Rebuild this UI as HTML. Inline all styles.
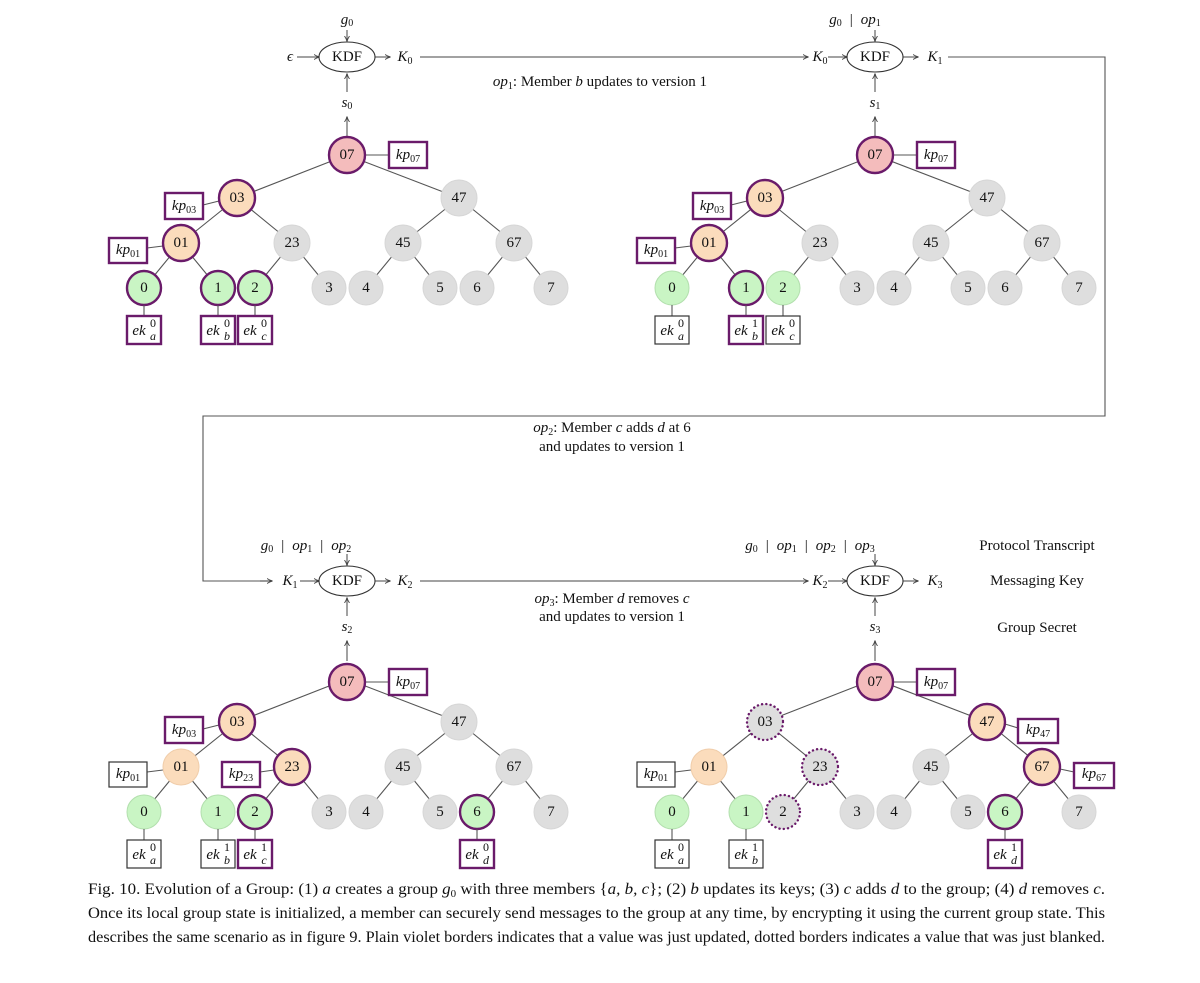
<!DOCTYPE html>
<html><head><meta charset="utf-8"><style>
body{margin:0;background:#fff}
svg{display:block}
text{font-family:"Liberation Serif",serif;fill:#111}
.c{text-anchor:middle;dominant-baseline:central;font-size:15px}
.s{text-anchor:middle;dominant-baseline:central;font-size:12px}
.m{font-style:italic}
.ln{stroke:#555;stroke-width:1.1;fill:none}
.ar{stroke:#444;stroke-width:1.1;fill:none;marker-end:url(#ah)}
.g{fill:#dedede;stroke:#d6d6d6;stroke-width:1}
.gr{fill:#c9f5c4;stroke:#b2dfad;stroke-width:1}
.or{fill:#fbdcbc;stroke:#f0cdaa;stroke-width:1}
.pk{fill:#f4bcbc}
.P{stroke:#6a1b6a;stroke-width:2.4}
.D{stroke:#6a1b6a;stroke-width:2.4;stroke-dasharray:0.1 4.2;stroke-linecap:round}
.bx{fill:#fff;stroke:#333;stroke-width:1.2}
.bp{fill:#fff;stroke:#6a1b6a;stroke-width:2.4}
</style></head><body>
<svg width="1200" height="983" viewBox="0 0 1200 983" xmlns="http://www.w3.org/2000/svg">
<defs>
<marker id="ah" markerWidth="8" markerHeight="8" refX="5" refY="3" orient="auto" markerUnits="userSpaceOnUse">
<path d="M0,0.5 Q3,2.5 5.5,3 Q3,3.5 0,5.5" fill="none" stroke="#444" stroke-width="0.9"/></marker>
<g id="edges" class="ln">
<line x1="347" y1="155" x2="237" y2="198"/><line x1="347" y1="155" x2="459" y2="198"/>
<line x1="237" y1="198" x2="181" y2="243"/><line x1="237" y1="198" x2="292" y2="243"/>
<line x1="459" y1="198" x2="403" y2="243"/><line x1="459" y1="198" x2="514" y2="243"/>
<line x1="181" y1="243" x2="144" y2="288"/><line x1="181" y1="243" x2="218" y2="288"/>
<line x1="292" y1="243" x2="255" y2="288"/><line x1="292" y1="243" x2="329" y2="288"/>
<line x1="403" y1="243" x2="366" y2="288"/><line x1="403" y1="243" x2="440" y2="288"/>
<line x1="514" y1="243" x2="477" y2="288"/><line x1="514" y1="243" x2="551" y2="288"/>
<line x1="347" y1="137" x2="347" y2="117" style="marker-end:url(#ah)"/>
<line x1="347" y1="92" x2="347" y2="74" style="marker-end:url(#ah)"/>
<line x1="375" y1="57" x2="390" y2="57" style="marker-end:url(#ah)"/>
<line x1="347" y1="30" x2="347" y2="41" style="marker-end:url(#ah)"/>
</g>
</defs>

<line class="ar" x1="420" y1="57" x2="808" y2="57"/>
<polyline class="ln" points="948,57 1105,57 1105,416 203,416 203,581 270,581" />
<line class="ar" x1="260" y1="581" x2="272" y2="581"/>
<line class="ar" x1="420" y1="581" x2="808" y2="581"/>
<line class="ar" x1="828" y1="57" x2="847" y2="57"/>
<line class="ar" x1="300" y1="581" x2="319" y2="581"/>
<line class="ar" x1="828" y1="581" x2="847" y2="581"/>
<line class="ar" x1="297" y1="57" x2="319" y2="57"/>

<text x="600" y="82" class="c"><tspan class="m">op</tspan><tspan font-size="10" dy="4">1</tspan><tspan dy="-4">: Member </tspan><tspan class="m">b</tspan> updates to version 1</text>
<text x="612" y="428" class="c"><tspan class="m">op</tspan><tspan font-size="10" dy="4">2</tspan><tspan dy="-4">: Member </tspan><tspan class="m">c</tspan> adds <tspan class="m">d</tspan> at 6</text>
<text x="612" y="447" class="c">and updates to version 1</text>
<text x="612" y="599" class="c"><tspan class="m">op</tspan><tspan font-size="10" dy="4">3</tspan><tspan dy="-4">: Member </tspan><tspan class="m">d</tspan> removes <tspan class="m">c</tspan></text>
<text x="612" y="617" class="c">and updates to version 1</text>
<text x="1037" y="546" class="c">Protocol Transcript</text>
<text x="1037" y="581" class="c">Messaging Key</text>
<text x="1037" y="628" class="c">Group Secret</text>

<text x="347" y="20" class="c"><tspan class="m">g</tspan><tspan font-size="10" dy="3">0</tspan></text>
<text x="290" y="57" class="c m">ϵ</text>
<text x="855" y="20" class="c"><tspan class="m">g</tspan><tspan font-size="10" dy="3">0</tspan><tspan dx="8" dy="-3">|</tspan><tspan dx="8" class="m">op</tspan><tspan font-size="10" dy="3">1</tspan></text>
<text x="306" y="546" class="c"><tspan class="m">g</tspan><tspan font-size="10" dy="3">0</tspan><tspan dx="8" dy="-3">|</tspan><tspan dx="8" class="m">op</tspan><tspan font-size="10" dy="3">1</tspan><tspan dx="8" dy="-3">|</tspan><tspan dx="8" class="m">op</tspan><tspan font-size="10" dy="3">2</tspan></text>
<text x="810" y="546" class="c"><tspan class="m">g</tspan><tspan font-size="10" dy="3">0</tspan><tspan dx="8" dy="-3">|</tspan><tspan dx="8" class="m">op</tspan><tspan font-size="10" dy="3">1</tspan><tspan dx="8" dy="-3">|</tspan><tspan dx="8" class="m">op</tspan><tspan font-size="10" dy="3">2</tspan><tspan dx="8" dy="-3">|</tspan><tspan dx="8" class="m">op</tspan><tspan font-size="10" dy="3">3</tspan></text>
<text x="405" y="57" class="c"><tspan class="m">K</tspan><tspan font-size="10" dy="4">0</tspan></text>
<text x="820" y="57" class="c"><tspan class="m">K</tspan><tspan font-size="10" dy="4">0</tspan></text>
<text x="935" y="57" class="c"><tspan class="m">K</tspan><tspan font-size="10" dy="4">1</tspan></text>
<text x="290" y="581" class="c"><tspan class="m">K</tspan><tspan font-size="10" dy="4">1</tspan></text>
<text x="405" y="581" class="c"><tspan class="m">K</tspan><tspan font-size="10" dy="4">2</tspan></text>
<text x="820" y="581" class="c"><tspan class="m">K</tspan><tspan font-size="10" dy="4">2</tspan></text>
<text x="935" y="581" class="c"><tspan class="m">K</tspan><tspan font-size="10" dy="4">3</tspan></text>

<!-- ===== TL ===== -->
<g>
<use href="#edges"/>
<ellipse cx="347" cy="57" rx="28" ry="15" fill="#fff" stroke="#333" stroke-width="1.1"/><text x="347" y="57" class="c">KDF</text>
<text x="347" y="103" class="c"><tspan class="m">s</tspan><tspan font-size="10" dy="3">0</tspan></text>
<line class="ln" x1="365" y1="155" x2="389" y2="155"/><rect class="bp" x="389" y="142" width="38" height="26"/><text x="408" y="155" class="c"><tspan class="m">kp</tspan><tspan font-size="10" dy="4">07</tspan></text>
<line class="ln" x1="219" y1="201" x2="203" y2="205"/><rect class="bp" x="165" y="193" width="38" height="26"/><text x="184" y="206" class="c"><tspan class="m">kp</tspan><tspan font-size="10" dy="4">03</tspan></text>
<line class="ln" x1="163" y1="246" x2="147" y2="248"/><rect class="bp" x="109" y="238" width="38" height="25"/><text x="128" y="250" class="c"><tspan class="m">kp</tspan><tspan font-size="10" dy="4">01</tspan></text>
<circle cx="347" cy="155" r="18" class="pk P"/><text x="347" y="155" class="c">07</text>
<circle cx="237" cy="198" r="18" class="or P"/><text x="237" y="198" class="c">03</text>
<circle cx="459" cy="198" r="18" class="g"/><text x="459" y="198" class="c">47</text>
<circle cx="181" cy="243" r="18" class="or P"/><text x="181" y="243" class="c">01</text>
<circle cx="292" cy="243" r="18" class="g"/><text x="292" y="243" class="c">23</text>
<circle cx="403" cy="243" r="18" class="g"/><text x="403" y="243" class="c">45</text>
<circle cx="514" cy="243" r="18" class="g"/><text x="514" y="243" class="c">67</text>
<circle cx="144" cy="288" r="17" class="gr P"/><text x="144" y="288" class="c">0</text>
<circle cx="218" cy="288" r="17" class="gr P"/><text x="218" y="288" class="c">1</text>
<circle cx="255" cy="288" r="17" class="gr P"/><text x="255" y="288" class="c">2</text>
<circle cx="329" cy="288" r="17" class="g"/><text x="329" y="288" class="c">3</text>
<circle cx="366" cy="288" r="17" class="g"/><text x="366" y="288" class="c">4</text>
<circle cx="440" cy="288" r="17" class="g"/><text x="440" y="288" class="c">5</text>
<circle cx="477" cy="288" r="17" class="g"/><text x="477" y="288" class="c">6</text>
<circle cx="551" cy="288" r="17" class="g"/><text x="551" y="288" class="c">7</text>
<line class="ln" x1="144" y1="305" x2="144" y2="316"/><rect class="bp" x="127" y="316" width="34" height="28"/><text x="139" y="331" class="c m">ek</text><text x="153" y="323" class="s">0</text><text x="153" y="336" class="s m">a</text>
<line class="ln" x1="218" y1="305" x2="218" y2="316"/><rect class="bp" x="201" y="316" width="34" height="28"/><text x="213" y="331" class="c m">ek</text><text x="227" y="323" class="s">0</text><text x="227" y="336" class="s m">b</text>
<line class="ln" x1="255" y1="305" x2="255" y2="316"/><rect class="bp" x="238" y="316" width="34" height="28"/><text x="250" y="331" class="c m">ek</text><text x="264" y="323" class="s">0</text><text x="264" y="336" class="s m">c</text>
</g>

<!-- ===== TR ===== -->
<g transform="translate(528,0)">
<use href="#edges"/>
<ellipse cx="347" cy="57" rx="28" ry="15" fill="#fff" stroke="#333" stroke-width="1.1"/><text x="347" y="57" class="c">KDF</text>
<text x="347" y="103" class="c"><tspan class="m">s</tspan><tspan font-size="10" dy="3">1</tspan></text>
<line class="ln" x1="365" y1="155" x2="389" y2="155"/><rect class="bp" x="389" y="142" width="38" height="26"/><text x="408" y="155" class="c"><tspan class="m">kp</tspan><tspan font-size="10" dy="4">07</tspan></text>
<line class="ln" x1="219" y1="201" x2="203" y2="205"/><rect class="bp" x="165" y="193" width="38" height="26"/><text x="184" y="206" class="c"><tspan class="m">kp</tspan><tspan font-size="10" dy="4">03</tspan></text>
<line class="ln" x1="163" y1="246" x2="147" y2="248"/><rect class="bp" x="109" y="238" width="38" height="25"/><text x="128" y="250" class="c"><tspan class="m">kp</tspan><tspan font-size="10" dy="4">01</tspan></text>
<circle cx="347" cy="155" r="18" class="pk P"/><text x="347" y="155" class="c">07</text>
<circle cx="237" cy="198" r="18" class="or P"/><text x="237" y="198" class="c">03</text>
<circle cx="459" cy="198" r="18" class="g"/><text x="459" y="198" class="c">47</text>
<circle cx="181" cy="243" r="18" class="or P"/><text x="181" y="243" class="c">01</text>
<circle cx="292" cy="243" r="18" class="g"/><text x="292" y="243" class="c">23</text>
<circle cx="403" cy="243" r="18" class="g"/><text x="403" y="243" class="c">45</text>
<circle cx="514" cy="243" r="18" class="g"/><text x="514" y="243" class="c">67</text>
<circle cx="144" cy="288" r="17" class="gr"/><text x="144" y="288" class="c">0</text>
<circle cx="218" cy="288" r="17" class="gr P"/><text x="218" y="288" class="c">1</text>
<circle cx="255" cy="288" r="17" class="gr"/><text x="255" y="288" class="c">2</text>
<circle cx="329" cy="288" r="17" class="g"/><text x="329" y="288" class="c">3</text>
<circle cx="366" cy="288" r="17" class="g"/><text x="366" y="288" class="c">4</text>
<circle cx="440" cy="288" r="17" class="g"/><text x="440" y="288" class="c">5</text>
<circle cx="477" cy="288" r="17" class="g"/><text x="477" y="288" class="c">6</text>
<circle cx="551" cy="288" r="17" class="g"/><text x="551" y="288" class="c">7</text>
<line class="ln" x1="144" y1="305" x2="144" y2="316"/><rect class="bx" x="127" y="316" width="34" height="28"/><text x="139" y="331" class="c m">ek</text><text x="153" y="323" class="s">0</text><text x="153" y="336" class="s m">a</text>
<line class="ln" x1="218" y1="305" x2="218" y2="316"/><rect class="bp" x="201" y="316" width="34" height="28"/><text x="213" y="331" class="c m">ek</text><text x="227" y="323" class="s">1</text><text x="227" y="336" class="s m">b</text>
<line class="ln" x1="255" y1="305" x2="255" y2="316"/><rect class="bx" x="238" y="316" width="34" height="28"/><text x="250" y="331" class="c m">ek</text><text x="264" y="323" class="s">0</text><text x="264" y="336" class="s m">c</text>
</g>

<!-- ===== BL ===== -->
<g transform="translate(0,524)">
<use href="#edges"/>
<ellipse cx="347" cy="57" rx="28" ry="15" fill="#fff" stroke="#333" stroke-width="1.1"/><text x="347" y="57" class="c">KDF</text>
<text x="347" y="103" class="c"><tspan class="m">s</tspan><tspan font-size="10" dy="3">2</tspan></text>
<line class="ln" x1="365" y1="158" x2="389" y2="158"/><rect class="bp" x="389" y="145" width="38" height="26"/><text x="408" y="158" class="c"><tspan class="m">kp</tspan><tspan font-size="10" dy="4">07</tspan></text>
<line class="ln" x1="219" y1="201" x2="203" y2="205"/><rect class="bp" x="165" y="193" width="38" height="26"/><text x="184" y="206" class="c"><tspan class="m">kp</tspan><tspan font-size="10" dy="4">03</tspan></text>
<line class="ln" x1="163" y1="246" x2="147" y2="248"/><rect class="bx" x="109" y="238" width="38" height="25"/><text x="128" y="250" class="c"><tspan class="m">kp</tspan><tspan font-size="10" dy="4">01</tspan></text>
<line class="ln" x1="274" y1="246" x2="260" y2="248"/><rect class="bp" x="222" y="238" width="38" height="25"/><text x="241" y="250" class="c"><tspan class="m">kp</tspan><tspan font-size="10" dy="4">23</tspan></text>
<circle cx="347" cy="158" r="18" class="pk P"/><text x="347" y="158" class="c">07</text>
<circle cx="237" cy="198" r="18" class="or P"/><text x="237" y="198" class="c">03</text>
<circle cx="459" cy="198" r="18" class="g"/><text x="459" y="198" class="c">47</text>
<circle cx="181" cy="243" r="18" class="or"/><text x="181" y="243" class="c">01</text>
<circle cx="292" cy="243" r="18" class="or P"/><text x="292" y="243" class="c">23</text>
<circle cx="403" cy="243" r="18" class="g"/><text x="403" y="243" class="c">45</text>
<circle cx="514" cy="243" r="18" class="g"/><text x="514" y="243" class="c">67</text>
<circle cx="144" cy="288" r="17" class="gr"/><text x="144" y="288" class="c">0</text>
<circle cx="218" cy="288" r="17" class="gr"/><text x="218" y="288" class="c">1</text>
<circle cx="255" cy="288" r="17" class="gr P"/><text x="255" y="288" class="c">2</text>
<circle cx="329" cy="288" r="17" class="g"/><text x="329" y="288" class="c">3</text>
<circle cx="366" cy="288" r="17" class="g"/><text x="366" y="288" class="c">4</text>
<circle cx="440" cy="288" r="17" class="g"/><text x="440" y="288" class="c">5</text>
<circle cx="477" cy="288" r="17" class="gr P"/><text x="477" y="288" class="c">6</text>
<circle cx="551" cy="288" r="17" class="g"/><text x="551" y="288" class="c">7</text>
<line class="ln" x1="144" y1="305" x2="144" y2="316"/><rect class="bx" x="127" y="316" width="34" height="28"/><text x="139" y="331" class="c m">ek</text><text x="153" y="323" class="s">0</text><text x="153" y="336" class="s m">a</text>
<line class="ln" x1="218" y1="305" x2="218" y2="316"/><rect class="bx" x="201" y="316" width="34" height="28"/><text x="213" y="331" class="c m">ek</text><text x="227" y="323" class="s">1</text><text x="227" y="336" class="s m">b</text>
<line class="ln" x1="255" y1="305" x2="255" y2="316"/><rect class="bp" x="238" y="316" width="34" height="28"/><text x="250" y="331" class="c m">ek</text><text x="264" y="323" class="s">1</text><text x="264" y="336" class="s m">c</text>
<line class="ln" x1="477" y1="305" x2="477" y2="316"/><rect class="bp" x="460" y="316" width="34" height="28"/><text x="472" y="331" class="c m">ek</text><text x="486" y="323" class="s">0</text><text x="486" y="336" class="s m">d</text>
</g>

<!-- ===== BR ===== -->
<g transform="translate(528,524)">
<use href="#edges"/>
<ellipse cx="347" cy="57" rx="28" ry="15" fill="#fff" stroke="#333" stroke-width="1.1"/><text x="347" y="57" class="c">KDF</text>
<text x="347" y="103" class="c"><tspan class="m">s</tspan><tspan font-size="10" dy="3">3</tspan></text>
<line class="ln" x1="365" y1="158" x2="389" y2="158"/><rect class="bp" x="389" y="145" width="38" height="26"/><text x="408" y="158" class="c"><tspan class="m">kp</tspan><tspan font-size="10" dy="4">07</tspan></text>
<line class="ln" x1="163" y1="246" x2="147" y2="248"/><rect class="bx" x="109" y="238" width="38" height="25"/><text x="128" y="250" class="c"><tspan class="m">kp</tspan><tspan font-size="10" dy="4">01</tspan></text>
<line class="ln" x1="477" y1="200" x2="490" y2="204"/><rect class="bp" x="490" y="195" width="40" height="24"/><text x="510" y="206" class="c"><tspan class="m">kp</tspan><tspan font-size="10" dy="4">47</tspan></text>
<line class="ln" x1="532" y1="245" x2="546" y2="248"/><rect class="bp" x="546" y="239" width="40" height="25"/><text x="566" y="250" class="c"><tspan class="m">kp</tspan><tspan font-size="10" dy="4">67</tspan></text>
<circle cx="347" cy="158" r="18" class="pk P"/><text x="347" y="158" class="c">07</text>
<circle cx="237" cy="198" r="18" class="g D"/><text x="237" y="198" class="c">03</text>
<circle cx="459" cy="198" r="18" class="or P"/><text x="459" y="198" class="c">47</text>
<circle cx="181" cy="243" r="18" class="or"/><text x="181" y="243" class="c">01</text>
<circle cx="292" cy="243" r="18" class="g D"/><text x="292" y="243" class="c">23</text>
<circle cx="403" cy="243" r="18" class="g"/><text x="403" y="243" class="c">45</text>
<circle cx="514" cy="243" r="18" class="or P"/><text x="514" y="243" class="c">67</text>
<circle cx="144" cy="288" r="17" class="gr"/><text x="144" y="288" class="c">0</text>
<circle cx="218" cy="288" r="17" class="gr"/><text x="218" y="288" class="c">1</text>
<circle cx="255" cy="288" r="17" class="g D"/><text x="255" y="288" class="c">2</text>
<circle cx="329" cy="288" r="17" class="g"/><text x="329" y="288" class="c">3</text>
<circle cx="366" cy="288" r="17" class="g"/><text x="366" y="288" class="c">4</text>
<circle cx="440" cy="288" r="17" class="g"/><text x="440" y="288" class="c">5</text>
<circle cx="477" cy="288" r="17" class="gr P"/><text x="477" y="288" class="c">6</text>
<circle cx="551" cy="288" r="17" class="g"/><text x="551" y="288" class="c">7</text>
<line class="ln" x1="144" y1="305" x2="144" y2="316"/><rect class="bx" x="127" y="316" width="34" height="28"/><text x="139" y="331" class="c m">ek</text><text x="153" y="323" class="s">0</text><text x="153" y="336" class="s m">a</text>
<line class="ln" x1="218" y1="305" x2="218" y2="316"/><rect class="bx" x="201" y="316" width="34" height="28"/><text x="213" y="331" class="c m">ek</text><text x="227" y="323" class="s">1</text><text x="227" y="336" class="s m">b</text>
<line class="ln" x1="477" y1="305" x2="477" y2="316"/><rect class="bp" x="460" y="316" width="34" height="28"/><text x="472" y="331" class="c m">ek</text><text x="486" y="323" class="s">1</text><text x="486" y="336" class="s m">d</text>
</g>

<text x="88" y="894" font-size="15.5" textLength="1017" lengthAdjust="spacingAndGlyphs">Fig. 10.  Evolution of a Group: (1) <tspan class="m">a</tspan> creates a group <tspan class="m">g</tspan><tspan font-size="10" dy="3">0</tspan><tspan dy="-3"> with three members {</tspan><tspan class="m">a, b, c</tspan>}; (2) <tspan class="m">b</tspan> updates its keys; (3) <tspan class="m">c</tspan> adds <tspan class="m">d</tspan> to the group; (4) <tspan class="m">d</tspan> removes <tspan class="m">c</tspan>.</text>
<text x="88" y="918" font-size="15.5" textLength="1017" lengthAdjust="spacingAndGlyphs">Once its local group state is initialized, a member can securely send messages to the group at any time, by encrypting it using the current group state. This</text>
<text x="88" y="942" font-size="15.5" textLength="1017" lengthAdjust="spacingAndGlyphs">describes the same scenario as in figure 9. Plain violet borders indicates that a value was just updated, dotted borders indicates a value that was just blanked.</text>
</svg>
</body></html>
